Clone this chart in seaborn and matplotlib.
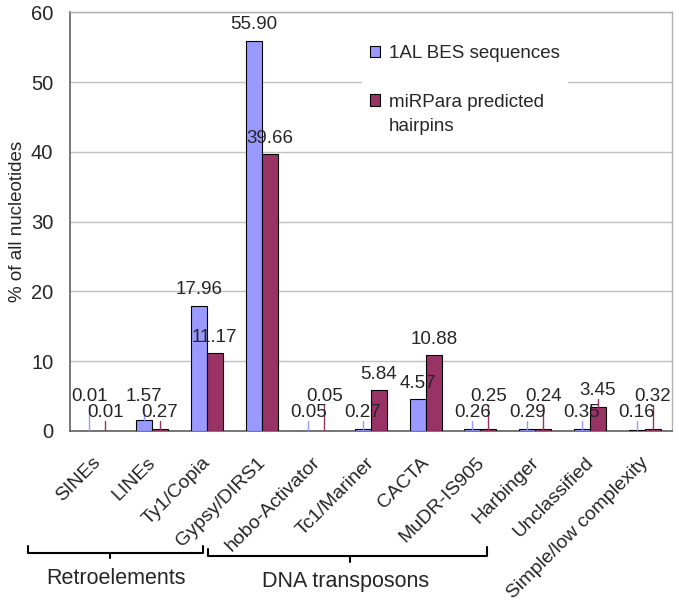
import numpy as np
import pandas as pd
import matplotlib.pyplot as plt
import seaborn as sns
from matplotlib.lines import Line2D
from matplotlib.transforms import ScaledTranslation

# values
categories = ['SINEs', 'LINEs', 'Ty1/Copia', 'Gypsy/DIRS1', 'hobo-Activator', 'Tc1/Mariner',
              'CACTA', 'MuDR-IS905', 'Harbinger', 'Unclassified', 'Simple/low complexity']
bes_values = [0.01, 1.57, 17.96, 55.90, 0.05, 0.27, 4.57, 0.26, 0.29, 0.35, 0.16]
mirpara_values = [0.01, 0.27, 11.17, 39.66, 0.05, 5.84, 10.88, 0.25, 0.24, 3.45, 0.32]
series_names = ['1AL BES sequences', 'miRPara predicted\nhairpins']
group_names = ['Retroelements', 'DNA transposons']

# row used for the labels of tiny bars (1 = upper row, 0 = lower row)
bes_tier = [1, 1, 0, 0, 0, 0, 0, 0, 0, 0, 0]
mir_tier = [0, 0, 1, 1, 1, 1, 1, 1, 1, 1, 1]

colors = ['#9999FF', '#993366']

df = pd.DataFrame({
    'category': categories * 2,
    'value': bes_values + mirpara_values,
    'series': [series_names[0]] * len(categories) + [series_names[1]] * len(categories),
})

sns.set_style('white')
plt.rcParams['font.family'] = ['Liberation Sans', 'DejaVu Sans']

fig = plt.figure(figsize=(6.79, 6.02), dpi=100)
ax = fig.add_axes([70 / 679, 1 - 431 / 602, 602 / 679, 418.7 / 602])

sns.barplot(data=df, x='category', y='value', hue='series', palette=colors,
            width=0.585, gap=0, edgecolor='black', linewidth=0.8, saturation=1,
            ax=ax, zorder=3)

ax.set_ylim(0, 60)
ax.set_xlim(-0.5, len(categories) - 0.5)
ax.set_yticks(range(0, 61, 10))
ax.yaxis.grid(True, color='#c0c0c0', linewidth=1)
ax.set_axisbelow(True)
for side in ['left', 'bottom']:
    ax.spines[side].set_color('#606060')
    ax.spines[side].set_linewidth(1.2)
for side in ['top', 'right']:
    ax.spines[side].set_color('#b0b0b0')
    ax.spines[side].set_linewidth(1)

ax.tick_params(axis='y', length=5, width=1, color='#606060', pad=7, labelsize=14.5)
ax.set_xticks(np.arange(-0.5, len(categories)), minor=True)
ax.tick_params(axis='x', which='minor', length=5, width=1, color='#606060', direction='out')
ax.tick_params(axis='x', which='major', length=0, pad=0)
ax.set_xticks(range(len(categories)))
ax.set_xticklabels(categories, rotation=45, ha='right', va='top', rotation_mode='anchor', fontsize=14)
offset = ScaledTranslation(-0.05, -0.23, fig.dpi_scale_trans)
for lab in ax.get_xticklabels():
    lab.set_transform(lab.get_transform() + offset)
ax.set_xlabel('')
ax.set_ylabel('% of all nucleotides', fontsize=13.5)
ax.yaxis.set_label_coords(-44 / 602, 0.5)

# data labels with leader lines for tiny bars
for cont, vals, tiers, col in zip(ax.containers, [bes_values, mirpara_values], [bes_tier, mir_tier], colors):
    for bar, v, t in zip(cont, vals, tiers):
        xc = bar.get_x() + bar.get_width() / 2
        ly = max(v + 2.3, 4.9 if t else 2.6)
        ax.text(xc, ly, f'{v:.2f}', ha='center', va='center', fontsize=13.5, zorder=5)
        if v < 4:
            ax.plot([xc, xc], [v, ly - 1.15], color=col, linewidth=1, zorder=4)

leg = ax.legend(loc='upper left', bbox_to_anchor=(362 / 679, 1 - 38 / 602), bbox_transform=fig.transFigure,
                frameon=True, facecolor='white', edgecolor='none', framealpha=1, fancybox=False,
                fontsize=13.5, handlelength=0.55, handleheight=0.55, handletextpad=0.5,
                labelspacing=1.7, borderpad=0.4, borderaxespad=0)
for t in leg.get_texts():
    t.set_linespacing(1.5)
# put the swatch on the first line of a two-line entry
for col_box in leg._legend_handle_box.get_children():
    for row in col_box.get_children():
        row.align = 'top'

# group brackets below the category labels
def fig_line(xs, ys):
    fig.add_artist(Line2D([x / 679 for x in xs], [1 - y / 602 for y in ys],
                          transform=fig.transFigure, color='black', linewidth=1.5))

fig_line([28, 28, 203, 203], [546, 553, 553, 546])
fig_line([110, 110], [553, 558])
fig_line([208, 208, 487, 487], [549, 556, 556, 547])
fig_line([350, 350], [556, 562])
fig.text(116 / 679, 1 - 578 / 602, group_names[0], ha='center', va='center', fontsize=15.5)
fig.text(346 / 679, 1 - 581 / 602, group_names[1], ha='center', va='center', fontsize=15.5)

fig.savefig('out.png', dpi=100)
